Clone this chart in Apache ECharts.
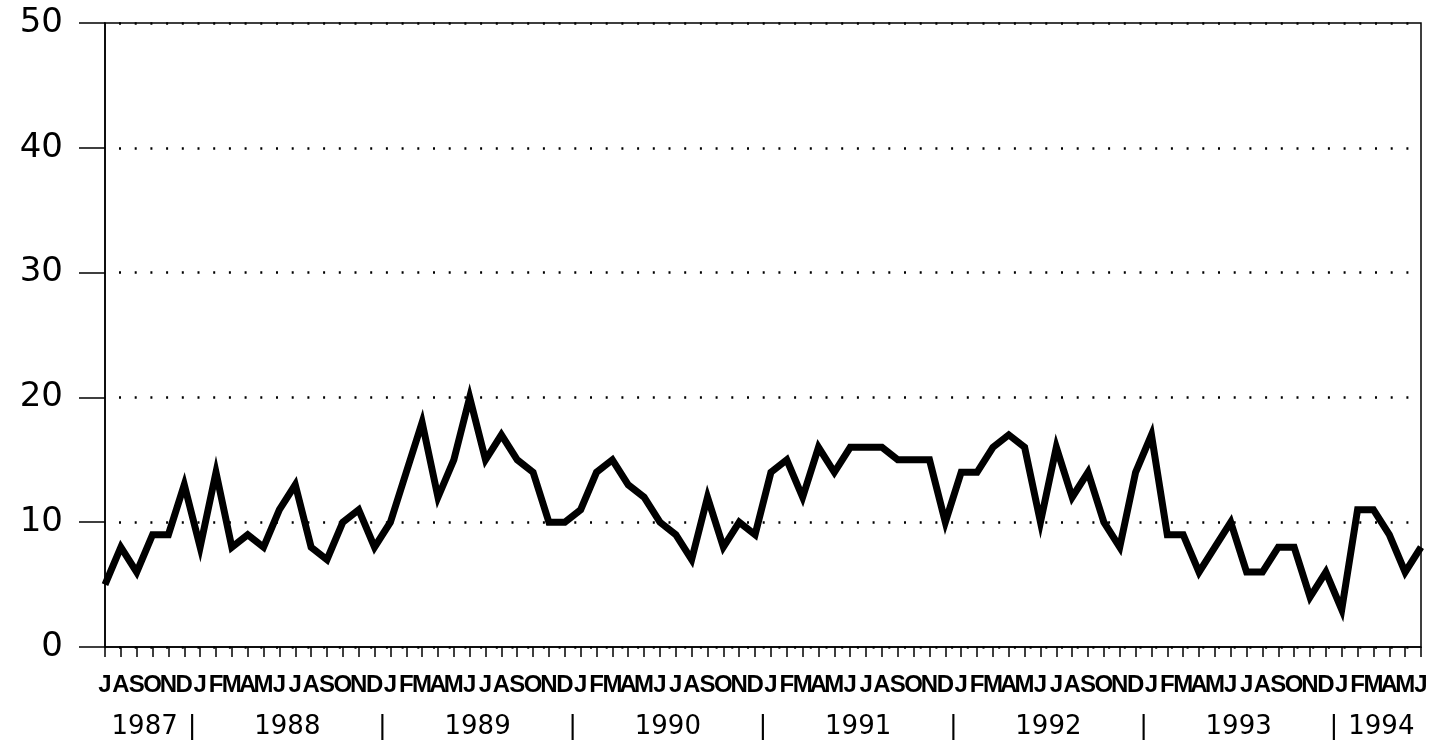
<!DOCTYPE html>
<html>
<head>
<meta charset="utf-8">
<script src="https://cdn.jsdelivr.net/npm/echarts@6/dist/echarts.min.js"></script>
<style>
html,body{margin:0;padding:0;background:#fff;}
#chart{width:1439px;height:740px;}
</style>
</head>
<body>
<div id="chart"></div>
<script>
// Month initials and period covered: Jul 1987 .. Jun 1994
const monthInitials = ['J','F','M','A','M','J','J','A','S','O','N','D'];
const startYear = 1987, startMonth = 7;   // July 1987
const endYear = 1994, endMonth = 6;       // June 1994
const yearLabels = ['1987','1988','1989','1990','1991','1992','1993','1994'];

// Monthly values
const values = [
  // 1987 Jul-Dec
  5, 8, 6, 9, 9, 13,
  // 1988
  8, 14, 8, 9, 8, 11, 13, 8, 7, 10, 11, 8,
  // 1989
  10, 14, 18, 12, 15, 20, 15, 17, 15, 14, 10, 10,
  // 1990
  11, 14, 15, 13, 12, 10, 9, 7, 12, 8, 10, 9,
  // 1991
  14, 15, 12, 16, 14, 16, 16, 16, 15, 15, 15, 10,
  // 1992
  14, 14, 16, 17, 16, 10, 16, 12, 14, 10, 8, 14,
  // 1993
  17, 9, 9, 6, 8, 10, 6, 6, 8, 8, 4, 6,
  // 1994 Jan-Jun
  3, 11, 11, 9, 6, 8
];

const yTicks = [0, 10, 20, 30, 40, 50];

// Build categories
const categories = [];
const monthLetters = [];
const yearStartIdx = {};   // first index of each year
const yearCount = {};
{
  let y = startYear, m = startMonth;
  while (y < endYear || (y === endYear && m <= endMonth)) {
    const idx = categories.length;
    categories.push(y + '-' + String(m).padStart(2, '0'));
    monthLetters.push(monthInitials[m - 1]);
    if (yearStartIdx[y] === undefined) { yearStartIdx[y] = idx; yearCount[y] = 0; }
    yearCount[y]++;
    m++; if (m > 12) { m = 1; y++; }
  }
}

// Positions (in month-index units) of year labels and separators
const yearPosMap = {};
const sepPositions = [];
yearLabels.forEach(function (yl) {
  const y = +yl;
  const s = yearStartIdx[y], c = yearCount[y];
  yearPosMap[(s + (c - 1) / 2).toFixed(2)] = yl;
  if (s > 0) sepPositions.push(s - 0.5);
});
const yearCustomValues = Object.keys(yearPosMap).map(Number).concat(sepPositions).sort(function(a,b){return a-b;});

const chart = echarts.init(document.getElementById('chart'), null, {renderer: 'canvas'});
chart.setOption({
  animation: false,
  backgroundColor: '#fff',
  grid: {
    left: 105, right: 18, top: 23, bottom: 93,
    show: true, borderColor: '#000', borderWidth: 1.5, backgroundColor: 'transparent'
  },
  xAxis: [
    {
      type: 'category',
      data: categories,
      boundaryGap: false,
      axisLine: {show: true, lineStyle: {color: '#000', width: 1.5}},
      axisTick: {show: true, interval: 0, length: 10, lineStyle: {color: '#000', width: 1.5}},
      axisLabel: {
        interval: 0,
        margin: 26,
        color: '#000',
        fontFamily: 'Liberation Sans',
        fontWeight: 'bold',
        fontSize: 24,
        formatter: function (v, i) { return monthLetters[i]; }
      },
      splitLine: {show: false}
    },
    {
      type: 'value',
      position: 'bottom',
      min: 0,
      max: categories.length - 1,
      axisLine: {show: false},
      axisTick: {show: false},
      splitLine: {show: false},
      axisLabel: {
        customValues: yearCustomValues,
        showMinLabel: true,
        showMaxLabel: true,
        hideOverlap: false,
        margin: 67,
        color: '#000',
        fontFamily: 'DejaVu Sans',
        fontSize: 26,
        formatter: function (v) {
          const k = (+v).toFixed(2);
          if (yearPosMap[k] !== undefined) return yearPosMap[k];
          return '|';
        }
      }
    }
  ],
  yAxis: {
    type: 'value',
    min: yTicks[0],
    max: yTicks[yTicks.length - 1],
    interval: 10,
    axisLine: {show: true, lineStyle: {color: '#000', width: 1.5}},
    axisTick: {show: true, length: 26, lineStyle: {color: '#000', width: 1.5}},
    axisLabel: {
      margin: 42,
      color: '#000',
      fontFamily: 'DejaVu Sans',
      fontSize: 34
    },
    splitLine: {
      show: true,
      lineStyle: {color: '#000', width: 2.5, type: [2, 13.7], dashOffset: -14}
    }
  },
  series: [{
    type: 'line',
    data: values,
    xAxisIndex: 0,
    symbol: 'none',
    smooth: false,
    lineStyle: {color: '#000', width: 7, join: 'miter', miterLimit: 10, cap: 'butt'},
    z: 5
  }]
});
</script>
</body>
</html>
